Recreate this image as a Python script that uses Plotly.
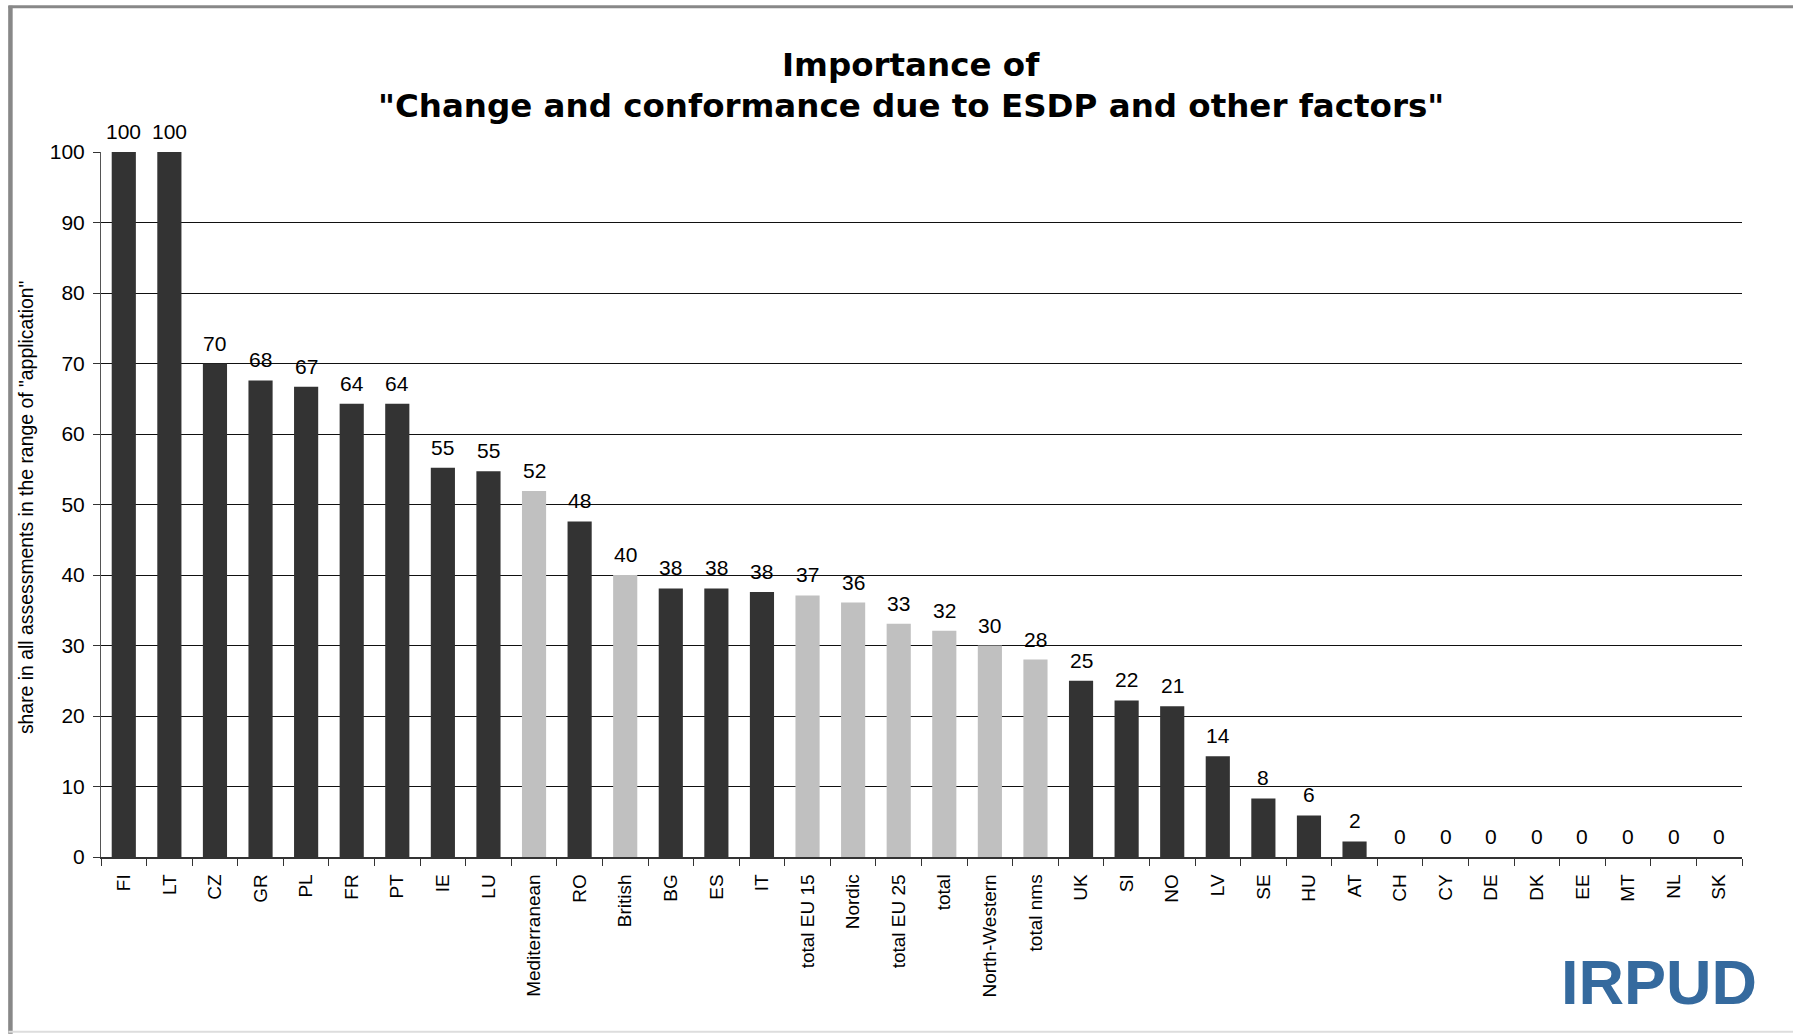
import plotly.graph_objects as go

categories = ["FI", "LT", "CZ", "GR", "PL", "FR", "PT", "IE", "LU", "Mediterranean", "RO",
              "British", "BG", "ES", "IT", "total EU 15", "Nordic", "total EU 25", "total",
              "North-Western", "total nms", "UK", "SI", "NO", "LV", "SE", "HU", "AT",
              "CH", "CY", "DE", "DK", "EE", "MT", "NL", "SK"]
values = [100, 100, 70, 67.6, 66.7, 64.3, 64.3, 55.2, 54.7, 51.9, 47.6,
          40, 38.1, 38.1, 37.6, 37.1, 36.1, 33.1, 32.1,
          30, 28, 25, 22.2, 21.4, 14.3, 8.3, 5.9, 2.2,
          0, 0, 0, 0, 0, 0, 0, 0]
labels = ["100", "100", "70", "68", "67", "64", "64", "55", "55", "52", "48",
          "40", "38", "38", "38", "37", "36", "33", "32",
          "30", "28", "25", "22", "21", "14", "8", "6", "2",
          "0", "0", "0", "0", "0", "0", "0", "0"]
group_cats = {"Mediterranean", "British", "total EU 15", "Nordic", "total EU 25", "total",
              "North-Western", "total nms"}
y_ticks = [0, 10, 20, 30, 40, 50, 60, 70, 80, 90, 100]

DARK = "#333333"
LIGHT = "#c0c0c0"
colors = [LIGHT if c in group_cats else DARK for c in categories]

W, H = 1793, 1034
L, R, T, B = 100.6, 1742.0, 152.3, 857.3


def px(x):
    return (x - L) / (R - L)


def py(y):
    return (B - y) / (B - T)


FONT = "Liberation Sans, Arial, sans-serif"
TITLE_FONT = "DejaVu Sans, Verdana, sans-serif"

fig = go.Figure(go.Bar(
    x=categories, y=values, marker=dict(color=colors, line=dict(width=0)),
    cliponaxis=False, hoverinfo="x+y",
))

fig.update_layout(
    width=W, height=H,
    margin=dict(l=L, r=W - R, t=T, b=H - B, pad=0),
    paper_bgcolor="white", plot_bgcolor="white",
    bargap=0.47, showlegend=False,
    font=dict(family=FONT, color="#000"),
    xaxis=dict(
        type="category", tickangle=-90, tickson="boundaries", ticks="outside",
        ticklen=7, tickcolor="#333", tickwidth=1, showgrid=False,
        showline=True, linecolor="#333", linewidth=1.5,
        tickfont=dict(family=FONT, size=19, color="#000"),
        ticklabelstandoff=8,
    ),
    yaxis=dict(
        range=[0, 100], tickvals=y_ticks, ticks="outside", ticklen=7,
        tickcolor="#333", showgrid=True, gridcolor="#111", gridwidth=1.2,
        showline=True, linecolor="#555", linewidth=1, zeroline=False,
        tickfont=dict(family=FONT, size=21, color="#000"),
        ticklabelstandoff=4,
    ),
)

annotations = [
    dict(x=c, y=v, text=t, xref="x", yref="y", showarrow=False,
         xanchor="center", yanchor="middle", yshift=20.5,
         font=dict(family=FONT, size=21, color="#000"))
    for c, v, t in zip(categories, values, labels)
]
annotations += [
    dict(text="<b>Importance of</b>", x=px(911), y=py(65), xref="paper", yref="paper",
         showarrow=False, xanchor="center", yanchor="middle",
         font=dict(family=TITLE_FONT, size=32.5, color="#000")),
    dict(text="<b>\"Change and conformance due to ESDP and other factors\"</b>",
         x=px(911), y=py(106), xref="paper", yref="paper",
         showarrow=False, xanchor="center", yanchor="middle",
         font=dict(family=TITLE_FONT, size=32.5, color="#000")),
    dict(text="share in all assessments in the range of \"application\"",
         x=px(25), y=py(507), xref="paper", yref="paper", textangle=-90,
         showarrow=False, xanchor="center", yanchor="middle",
         font=dict(family=FONT, size=19.4, color="#000")),
    dict(text="<b>IRPUD</b>", x=px(1659), y=py(982), xref="paper", yref="paper",
         showarrow=False, xanchor="center", yanchor="middle",
         font=dict(family=FONT, size=63, color="#356a9e")),
]
fig.update_layout(annotations=annotations)

shapes = [
    dict(type="line", xref="paper", yref="paper", x0=px(8), x1=px(W), y0=py(7), y1=py(7),
         line=dict(color="#888888", width=3)),
    dict(type="line", xref="paper", yref="paper", x0=px(10), x1=px(10), y0=py(6), y1=py(H),
         line=dict(color="#888888", width=4.5)),
    dict(type="line", xref="paper", yref="paper", x0=px(8), x1=px(W), y0=py(1032), y1=py(1032),
         line=dict(color="#dddddd", width=2)),
]
fig.update_layout(shapes=shapes)

fig.write_html("out.html", config={"displayModeBar": False},
               post_script="document.body.style.margin='0';document.body.style.padding='0';")
